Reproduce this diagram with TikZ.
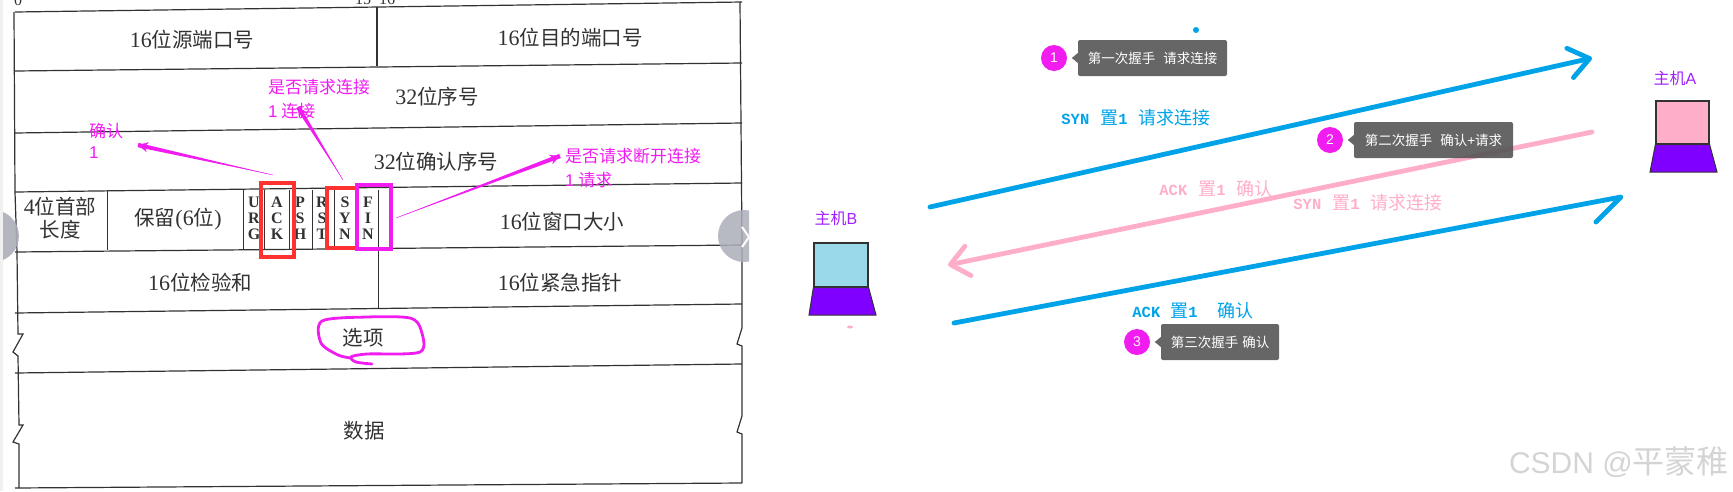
\documentclass[tikz,border=0pt]{standalone}
\usepackage{fontspec}
\setmainfont{Noto Sans CJK SC}
\newfontfamily\serlat{Liberation Serif}
\newfontfamily\monolat{Liberation Mono}
\newfontfamily\sanslat{Liberation Sans}
\usepackage{xcolor}
\usetikzlibrary{arrows.meta,positioning,calc}
\definecolor{tablegray}{RGB}{50,50,50}
\definecolor{wirepink}{RGB}{255,174,201}
\definecolor{wireblue}{RGB}{0,162,232}
\definecolor{markpink}{RGB}{240,28,240}
\definecolor{markred}{RGB}{255,50,50}
\definecolor{hostpurple}{RGB}{128,0,255}
\definecolor{hostlabel}{RGB}{160,32,255}
\definecolor{screenblue}{RGB}{153,217,234}
\definecolor{tipfill}{RGB}{85,85,85}
\definecolor{navgray}{RGB}{172,174,184}
\newcommand{\pxfont}[1]{\fontsize{#1}{#1}\selectfont}
\newcommand{\num}[1]{{\serlat\pxfont{22}#1}}
\newcommand{\mlat}[1]{{\monolat\bfseries\pxfont{15.5}#1}}
\newcommand{\taperarrow}[2]{%
    \fill[markpink] (#1) -- ($(#2)!2.2pt!90:(#1)$) -- ($(#2)!2.2pt!-90:(#1)$) -- cycle;
    \draw[markpink,line width=0.4pt,-{Stealth[length=10pt,width=10pt]}] (#1) -- (#2);
}
\tikzset{
    cell/.style={font=\pxfont{20.5},text=tablegray,inner sep=0pt},
    flagcell/.style={font=\serlat\bfseries\pxfont{16},text=tablegray,align=center,inner sep=0pt},
    tablerule/.style={tablegray,line width=1.2pt},
    marklabel/.style={font=\pxfont{17},text=markpink,inner sep=0pt,anchor=west},
    markbox/.style={line width=3.2pt},
    wirelabel/.style={font=\pxfont{18},inner sep=0pt},
    wire/.style={line width=4.8pt,line cap=round},
    stepdot/.style={circle,fill=markpink,text=white,minimum size=26pt,inner sep=0pt,font=\sanslat\pxfont{14}},
    tipbox/.style={fill=tipfill,fill opacity=0.9,text opacity=1,text=white,rounded corners=2pt,
        minimum height=36pt,inner sep=0pt,font=\pxfont{13.5}},
    hostscreen/.style={draw=tablegray,line width=1.3pt,inner sep=0pt},
    hostbase/.style={draw=black!80,line width=1pt,fill=hostpurple},
    hostname/.style={font=\pxfont{16},text=hostlabel,inner sep=0pt}
}
\begin{document}
\begin{tikzpicture}[x=1pt,y=-1pt]
    \useasboundingbox (0,0) rectangle (1733,491);
    \fill[black!6] (0,0) rectangle (2.5,491);
    % header table
    \foreach \ya/\yb in {12/2,71/63,133/123,192/183,252/245,313/304,373/364,488/483} {
        \draw[tablerule] (15,\ya) -- (742,\yb);
    }
    \draw[tablerule] (14,12) -- (15,192) -- (17,252) -- (18,334) -- (23,334) -- (13,352) -- (18,356)
        -- (19,425) -- (23,425) -- (13,442) -- (19,444) -- (19,488);
    \draw[tablerule] (740,2) -- (742,245) -- (742,328) -- (737,344) -- (742,346) -- (742,416)
        -- (737,432) -- (742,434) -- (742,483);
    \draw[tablerule] (377,7) -- (377,66);
    \draw[tablerule,line width=0.9pt] (378,248) -- (378,309);
    \foreach \x in {107,243,264,289,312,334,357,378} {
        \draw[tablerule,line width=0.9pt] (\x,190) -- (\x,250);
    }
    \node[cell] (srcport) at (192,40) {\num{16}位源端口号};
    \node[cell] (dstport) at (570,38) {\num{16}位目的端口号};
    \node[cell] (seqnum) at (437,97) {\num{32}位序号};
    \node[cell] (acknum) at (436,162) {\num{32}位确认序号};
    \node[cell,align=center] (hdrlen) at (60,218) {\num{4}位首部\\[2pt]长度};
    \node[cell] (reserved) at (178,219) {保留{\serlat\pxfont{22}(6}位{\serlat\pxfont{22})}};
    \node[flagcell] (urg) at (254,218) {U\\R\\G};
    \node[flagcell] (ack) at (277,218) {A\\C\\K};
    \node[flagcell] (psh) at (300,218) {P\\S\\H};
    \node[flagcell] (rst) at (322,218) {R\\S\\T};
    \node[flagcell] (syn) at (345,218) {S\\Y\\N};
    \node[flagcell] (fin) at (368,218) {F\\I\\N};
    \node[cell] (window) at (562,222) {\num{16}位窗口大小};
    \node[cell] (checksum) at (200,283) {\num{16}位检验和};
    \node[cell] (urgent) at (560,283) {\num{16}位紧急指针};
    \node[cell] (options) at (363,338) {选项};
    \node[cell] (payload) at (364,431) {数据};
    % bit numbers cut off at the top edge
    \begin{scope}
        \clip (0,0) rectangle (500,20);
        \node[font=\serlat\pxfont{16},text=tablegray,inner sep=0pt] (bitzero) at (18,0) {0};
        \node[font=\serlat\pxfont{16},text=tablegray,inner sep=0pt] (bitmid) at (375,-1) {15\ \ 16};
    \end{scope}
    % slider buttons
    \begin{scope}
        \clip (3,190) rectangle (60,280);
        \fill[navgray,fill opacity=0.9] (-7,236) circle (26);
    \end{scope}
    \begin{scope}
        \clip (700,190) rectangle (749,280);
        \fill[navgray,fill opacity=0.85] (744,236) circle (26);
        \draw[white,line width=2pt] (742,227) -- (749,237) -- (742,247);
    \end{scope}
    % marks on the flags
    \draw[markbox,markred] (261,183) rectangle (294,257);
    \draw[markbox,markred] (327,188) rectangle (357,248);
    \draw[markbox,markpink] (357,185) rectangle (391,249);
    \draw[markpink,line width=2.8pt,line cap=round,line join=round] plot[smooth] coordinates {
        (372,364) (356,362) (351,357) (367,354) (420,352) (421,330) (410,318) (367,317) (322,321)
        (321,343) (338,355) (351,358)};
    \node[marklabel] (acktext) at (89,131) {确认};
    \node[marklabel] (ackone) at (89,153) {{\sanslat 1}};
    \node[marklabel] (syntext) at (268,87) {是否请求连接};
    \node[marklabel] (synone) at (268,111) {{\sanslat 1} 连接};
    \node[marklabel] (fintext) at (565,156) {是否请求断开连接};
    \node[marklabel] (finone) at (565,180) {{\sanslat 1} 请求};
    \coordinate (ackfrom) at (273,175);
    \coordinate (ackto) at (138,145);
    \coordinate (synfrom) at (343,180);
    \coordinate (synto) at (298,107);
    \coordinate (finfrom) at (396,218);
    \coordinate (finto) at (560,156);
    \taperarrow{ackfrom}{ackto}
    \taperarrow{synfrom}{synto}
    \taperarrow{finfrom}{finto}
    % hosts
    \node[hostname] (hostblabel) at (836,218) {主机{\sanslat B}};
    \node[hostscreen,fill=screenblue,minimum width=54pt,minimum height=44pt] (hostb) at (841,265) {};
    \draw[hostbase] (hostb.south west) -- (hostb.south east) -- (876,315) -- (809,315) -- cycle;
    \node[hostname] (hostalabel) at (1675,78) {主机{\sanslat A}};
    \node[hostscreen,fill=wirepink,minimum width=53pt,minimum height=43pt] (hosta) at (1682.5,122.5) {};
    \draw[hostbase] (hosta.south west) -- (hosta.south east) -- (1717,172) -- (1650,172) -- cycle;
    \fill[wirepink] (850,327) ellipse (3 and 1.5);
    % handshake wires
    \coordinate (wireastart) at (930,207);
    \coordinate (wireaend) at (1592,58);
    \coordinate (wirebstart) at (1592,132);
    \coordinate (wirebend) at (948,265);
    \coordinate (wirecstart) at (954,323);
    \coordinate (wirecend) at (1621,197);
    \draw[wire,wireblue,-{Straight Barb[length=20pt,width=30pt,round]}] (wireastart) -- (wireaend);
    \draw[wire,wirepink,-{Straight Barb[length=18pt,width=30pt,round]}] (wirebstart) -- (wirebend);
    \draw[wire,wireblue,line join=round] (wirecstart) -- (wirecend) -- (1596,222);
    \fill[wireblue] (1196,30) circle (3);
    \node[wirelabel,text=wireblue] (syndown) at (1136,118) {\mlat{SYN}\hspace{11pt}置\mlat{1}\hspace{11pt}请求连接};
    \node[wirelabel,text=wirepink] (ackback) at (1216,189) {\mlat{ACK}\hspace{11pt}置\mlat{1}\hspace{11pt}确认};
    \node[wirelabel,text=wirepink] (synback) at (1368,203) {\mlat{SYN}\hspace{11pt}置\mlat{1}\hspace{11pt}请求连接};
    \node[wirelabel,text=wireblue] (ackdown) at (1193,311) {\mlat{ACK}\hspace{10pt}置\mlat{1}\hspace{20pt}确认};
    % step tooltips
    \node[stepdot] (dota) at (1054,58) {1};
    \node[tipbox,minimum width=149pt] (tipa) at (1152.5,58) {第一次握手\hspace{8pt}请求连接\hspace{7pt}};
    \node[stepdot] (dotb) at (1330,140) {2};
    \node[tipbox,minimum width=159pt] (tipb) at (1433.5,140) {第二次握手\hspace{8pt}确认{\sanslat +}请求\hspace{7pt}};
    \node[stepdot] (dotc) at (1137,342) {3};
    \node[tipbox,minimum width=118pt] (tipc) at (1220,342) {第三次握手\hspace{4pt}确认\hspace{5pt}};
    \foreach \t in {tipa,tipb,tipc} {
        \fill[tipfill,fill opacity=0.9] ($(\t.west)+(0,-5)$) -- ($(\t.west)+(-6,0)$) -- ($(\t.west)+(0,5)$) -- cycle;
    }
    \node[font=\sanslat\pxfont{30},text=black!17,inner sep=0pt,anchor=east] (mark) at (1729,462) {CSDN @{\rmfamily\pxfont{32}平蒙稚}};
\end{tikzpicture}
\end{document}
